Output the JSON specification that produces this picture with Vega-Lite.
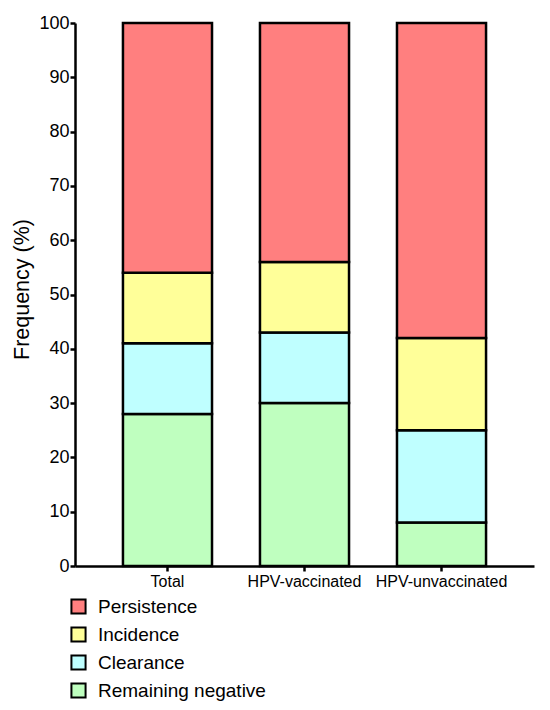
{
  "$schema": "https://vega.github.io/schema/vega-lite/v6.json",
  "autosize": {"type": "none"},
  "padding": {"left": 75, "top": 23, "right": 16, "bottom": 144},
  "width": 459,
  "height": 543,
  "background": "white",
  "config": {
    "view": {"stroke": null},
    "font": "Liberation Sans"
  },
  "data": {
    "values": [
      {"group": "Total", "category": "Remaining negative", "k": 1, "value": 28},
      {"group": "Total", "category": "Clearance", "k": 2, "value": 13},
      {"group": "Total", "category": "Incidence", "k": 3, "value": 13},
      {"group": "Total", "category": "Persistence", "k": 4, "value": 46},
      {"group": "HPV-vaccinated", "category": "Remaining negative", "k": 1, "value": 30},
      {"group": "HPV-vaccinated", "category": "Clearance", "k": 2, "value": 13},
      {"group": "HPV-vaccinated", "category": "Incidence", "k": 3, "value": 13},
      {"group": "HPV-vaccinated", "category": "Persistence", "k": 4, "value": 44},
      {"group": "HPV-unvaccinated", "category": "Remaining negative", "k": 1, "value": 8},
      {"group": "HPV-unvaccinated", "category": "Clearance", "k": 2, "value": 17},
      {"group": "HPV-unvaccinated", "category": "Incidence", "k": 3, "value": 17},
      {"group": "HPV-unvaccinated", "category": "Persistence", "k": 4, "value": 58}
    ]
  },
  "mark": {"type": "bar", "stroke": "black", "strokeWidth": 2.5, "strokeJoin": "miter"},
  "encoding": {
    "x": {
      "field": "group",
      "type": "nominal",
      "sort": ["Total", "HPV-vaccinated", "HPV-unvaccinated"],
      "scale": {"paddingInner": 0.35, "paddingOuter": 0.35},
      "axis": {
        "title": null,
        "labelAngle": 0,
        "labelFontSize": 16,
        "labelColor": "black",
        "labelPadding": 2,
        "labelLimit": 0,
        "tickSize": 5,
        "tickWidth": 2.5,
        "tickColor": "black",
        "domainColor": "black",
        "domainWidth": 2.5
      }
    },
    "y": {
      "field": "value",
      "type": "quantitative",
      "stack": "zero",
      "scale": {"domain": [0, 100], "nice": false},
      "axis": {
        "title": "Frequency (%)",
        "titleFontSize": 21.5,
        "titleFontWeight": "normal",
        "titleColor": "black",
        "titleAngle": -90,
        "titleBaseline": "middle",
        "titleAlign": "center",
        "titleX": -53,
        "titleY": 266,
        "values": [0, 10, 20, 30, 40, 50, 60, 70, 80, 90, 100],
        "labelFontSize": 18,
        "labelColor": "black",
        "labelPadding": 1,
        "tickSize": 5,
        "tickWidth": 2.5,
        "tickColor": "black",
        "domainColor": "black",
        "domainWidth": 2.5,
        "grid": false
      }
    },
    "color": {
      "field": "category",
      "type": "nominal",
      "scale": {
        "domain": ["Persistence", "Incidence", "Clearance", "Remaining negative"],
        "range": ["#FF7F7F", "#FFFF99", "#BFFFFF", "#BFFFBF"]
      },
      "legend": {
        "title": null,
        "orient": "none",
        "legendX": -6,
        "legendY": 574,
        "direction": "vertical",
        "symbolType": "square",
        "symbolSize": 200,
        "symbolStrokeColor": "black",
        "symbolStrokeWidth": 2,
        "symbolOpacity": 1,
        "labelFontSize": 19,
        "labelColor": "black",
        "labelOffset": 10,
        "labelLimit": 0,
        "rowPadding": 5
      }
    },
    "order": {"field": "k", "type": "quantitative"}
  }
}
